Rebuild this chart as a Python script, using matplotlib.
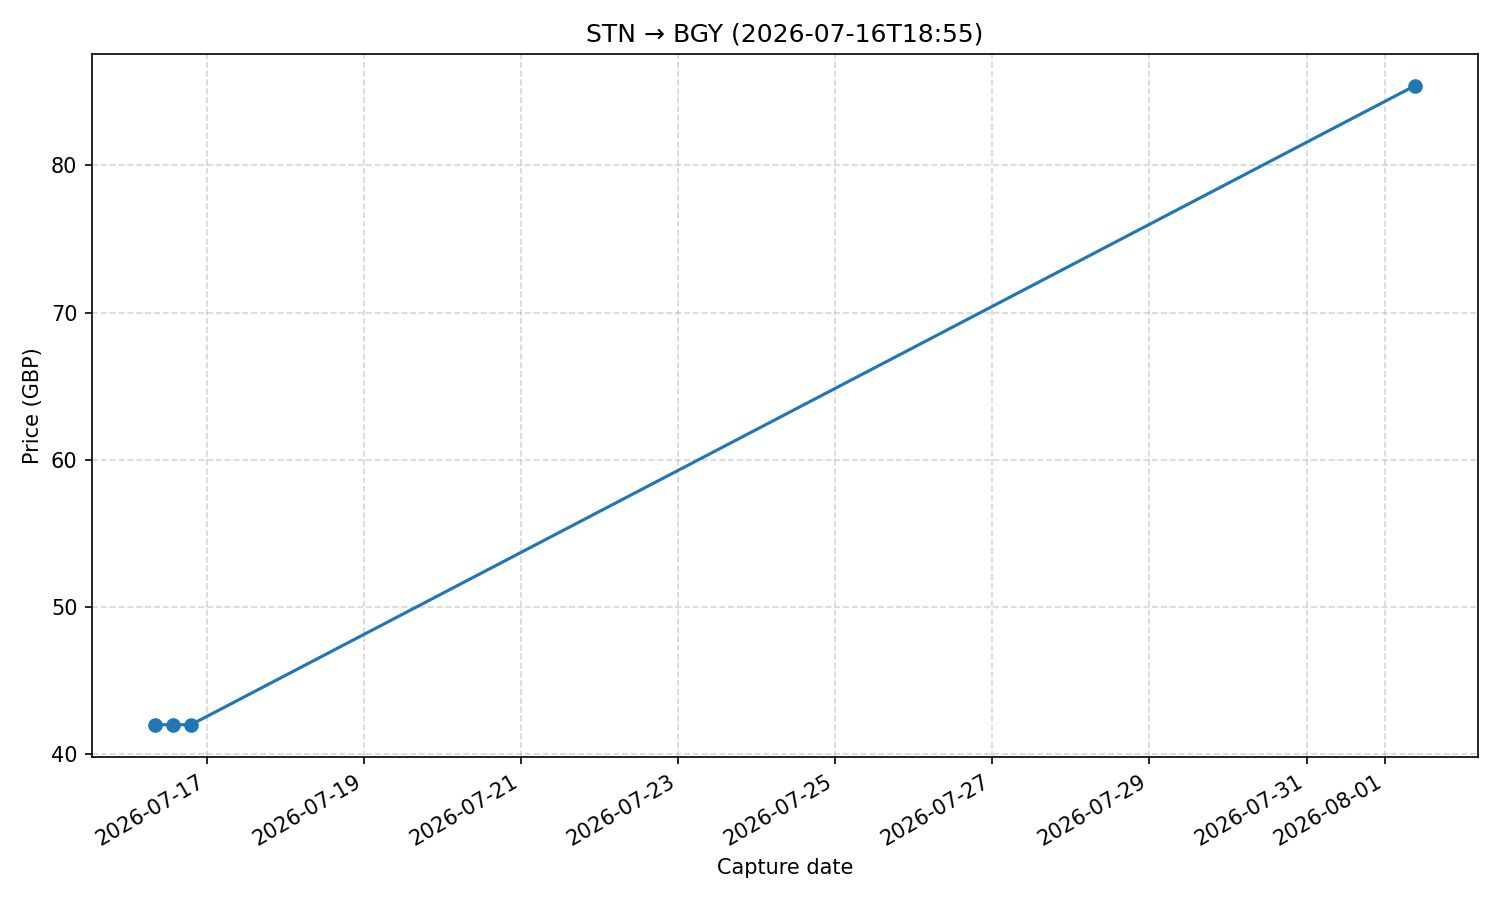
import matplotlib
matplotlib.use("Agg")
import matplotlib.pyplot as plt
import pandas as pd

dates = pd.to_datetime(["2026-07-16 08:05", "2026-07-16 13:35", "2026-07-16 19:05", "2026-08-01 09:00"])
prices = [42.0, 42.0, 42.0, 85.4]

fig, ax = plt.subplots(figsize=(10, 6), dpi=150)
ax.plot(dates, prices, marker="o", color="#1f77b4")
ax.set_title("STN → BGY (2026-07-16T18:55)")
ax.set_xlabel("Capture date")
ax.set_ylabel("Price (GBP)")
ax.grid(True, linestyle="--", alpha=0.5)
fig.autofmt_xdate()
fig.tight_layout()
fig.savefig("out.png")
